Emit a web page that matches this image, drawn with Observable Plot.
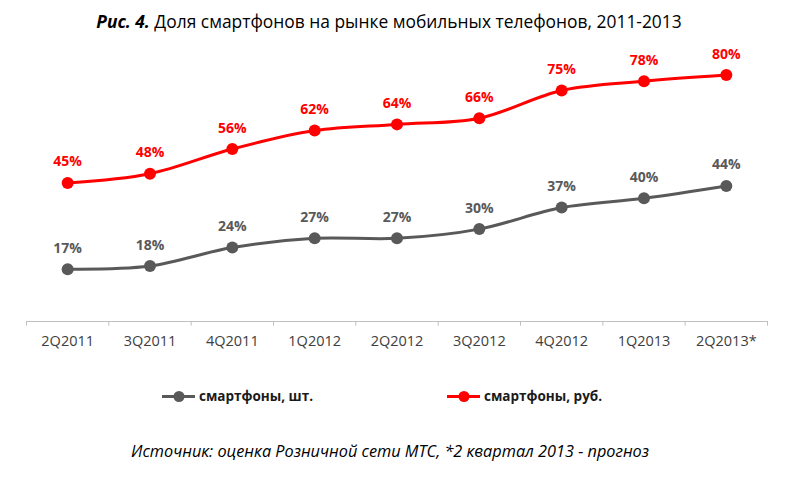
<!DOCTYPE html>
<html>
<head>
<meta charset="utf-8">
<script src="https://cdn.jsdelivr.net/npm/d3@7"></script>
<script src="https://cdn.jsdelivr.net/npm/@observablehq/plot@0.6"></script>
<style>
  body { margin: 0; background: #fff; font-family: "Open Sans", sans-serif; }
  #wrap { position: relative; width: 797px; height: 485px; overflow: hidden; }
  #chart { position: absolute; left: 0; top: 0; }
  .title { position: absolute; top: 9px; left: 0; width: 778px; text-align: center; font-size: 17.4px; color: #000; }
  .title b { font-weight: bold; font-style: italic; }
  .legend { position: absolute; top: 387px; font-size: 13.5px; font-weight: bold; color: #1a1a1a; display: flex; align-items: center; }
  .legend svg { margin-right: 4px; }
  .caption { position: absolute; top: 440px; left: 0; width: 780px; text-align: center; font-size: 16.3px; font-style: italic; color: #000; }
</style>
</head>
<body>
<div id="wrap">
  <div id="chart"></div>
  <div class="title"><b>Рис. 4.</b> Доля смартфонов на рынке мобильных телефонов, 2011-2013</div>
  <div class="legend" id="leg1" style="left:162px"></div>
  <div class="legend" id="leg2" style="left:447px"></div>
  <div class="caption">Источник: оценка Розничной сети МТС, *2 квартал 2013 - прогноз</div>
</div>
<script>
const quarters = ["2Q2011", "3Q2011", "4Q2011", "1Q2012", "2Q2012", "3Q2012", "4Q2012", "1Q2013", "2Q2013*"];
const unitsShare = [17, 18, 24, 27, 27, 30, 37, 40, 44];
const rubShare = [45, 48, 56, 62, 64, 66, 75, 78, 80];
const seriesNames = ["смартфоны, шт.", "смартфоны, руб."];
const seriesColors = ["#595959", "#ff0000"];

const rows = [];
quarters.forEach((q, i) => {
  rows.push({i, q, v: unitsShare[i], s: seriesNames[0]});
  rows.push({i, q, v: rubShare[i], s: seriesNames[1]});
});
const edges = d3.range(quarters.length + 1).map(k => k - 0.5);

const chart = Plot.plot({
  width: 797,
  height: 360,
  marginLeft: 26,
  marginRight: 30,
  marginTop: 13,
  marginBottom: 39,
  style: {fontFamily: "Open Sans, sans-serif", background: "transparent"},
  x: {domain: [-0.5, quarters.length - 0.5], axis: null},
  y: {domain: [0, 100], axis: null},
  color: {domain: seriesNames, range: seriesColors},
  marks: [
    Plot.ruleY([0], {stroke: "#bfbfbf", strokeWidth: 1}),
    Plot.ruleX(edges, {x: d => d, y1: 0, y2: -1.5, stroke: "#bfbfbf"}),
    Plot.axisX({ticks: d3.range(quarters.length), tickFormat: i => quarters[i], tickSize: 0, tickPadding: 14, fontSize: 14.5, fill: "#404040", anchor: "bottom", label: null}),
    Plot.line(rows, {x: "i", y: "v", z: "s", stroke: "s", strokeWidth: 3, curve: "catmull-rom"}),
    Plot.dot(rows, {x: "i", y: "v", fill: "s", r: 6}),
    Plot.text(rows, {x: "i", y: "v", text: d => d.v + "%", fill: "s", dy: -21, fontSize: 14, fontWeight: "bold"})
  ]
});
document.getElementById("chart").appendChild(chart);

function legendItem(el, color, label) {
  const sw = Plot.plot({
    width: 33, height: 14, margin: 0,
    x: {domain: [0, 1], axis: null}, y: {domain: [0, 1], axis: null},
    style: {background: "transparent"},
    marks: [
      Plot.ruleY([0.5], {stroke: color, strokeWidth: 3}),
      Plot.dot([[0.5, 0.5]], {fill: color, r: 5.5})
    ]
  });
  el.appendChild(sw);
  const span = document.createElement("span");
  span.textContent = label;
  el.appendChild(span);
}
legendItem(document.getElementById("leg1"), seriesColors[0], seriesNames[0]);
legendItem(document.getElementById("leg2"), seriesColors[1], seriesNames[1]);
</script>
</body>
</html>
